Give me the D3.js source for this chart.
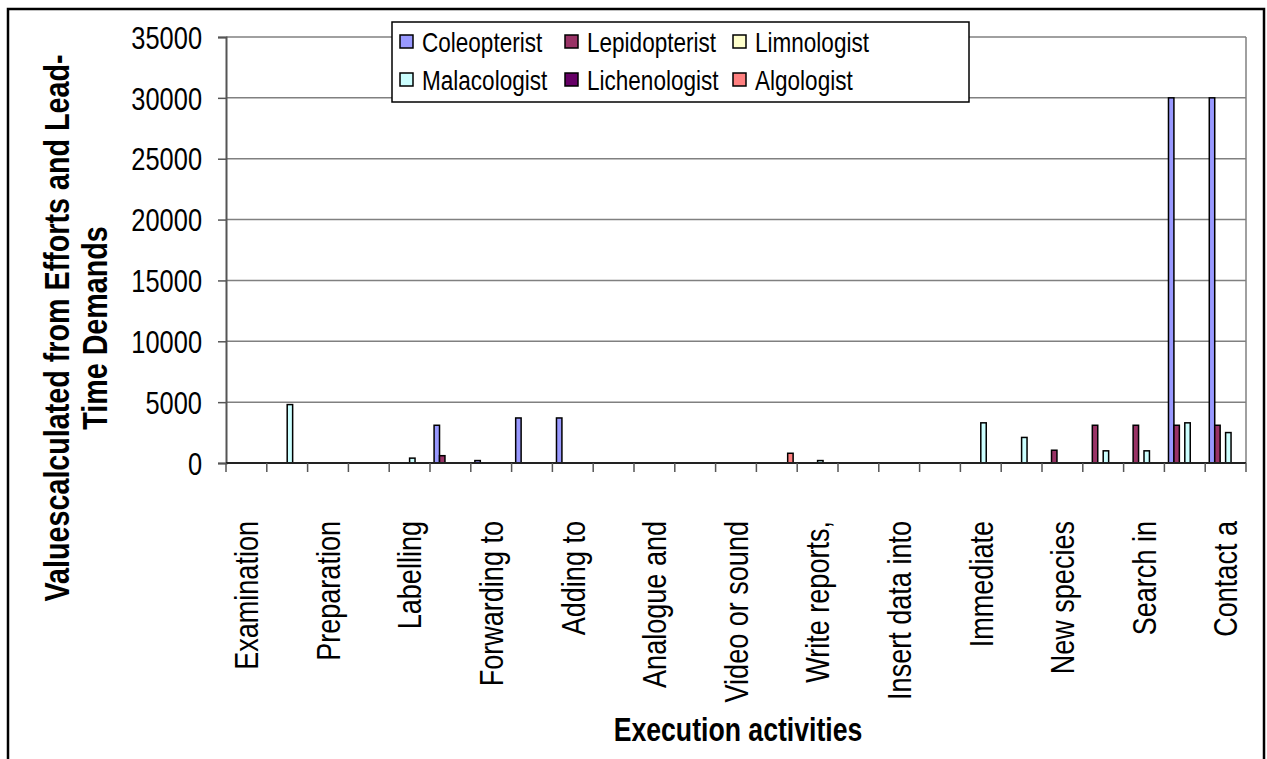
<!DOCTYPE html>
<html>
<head>
<meta charset="utf-8">
<script src="https://cdn.jsdelivr.net/npm/d3@7"></script>
<style>
  html, body { margin: 0; padding: 0; background: #fff; }
  svg { display: block; }
  text { font-family: "Liberation Sans", Arial, sans-serif; fill: #000; }
</style>
</head>
<body>
<svg id="chart" width="1267" height="759"></svg>
<script>
// 25 activities on the axis, Excel only printed every second label
const tickLabels = [
  "Examination", "", "Preparation", "", "Labelling", "", "Forwarding to", "",
  "Adding to", "", "Analogue and", "", "Video or sound", "", "Write reports,", "",
  "Insert data into", "", "Immediate", "", "New species", "", "Search in", "", "Contact a"
];

const seriesNames = ["Coleopterist", "Lepidopterist", "Limnologist", "Malacologist", "Lichenologist", "Algologist"];
const seriesColors = ["#9999ff", "#993366", "#ffffcc", "#ccffff", "#660066", "#ff8080"];

const coleopterist  = [0, 0, 0, 0, 0, 3100, 200, 3700, 3700, 0, 0, 0, 0, 0, 0, 0, 0, 0, 0, 0, 0, 0, 0, 30000, 30000];
const lepidopterist = [0, 0, 0, 0, 0, 600, 0, 0, 0, 0, 0, 0, 0, 0, 0, 0, 0, 0, 0, 0, 1050, 3100, 3100, 3100, 3100];
const limnologist   = [0, 0, 0, 0, 0, 0, 0, 0, 0, 0, 0, 0, 0, 0, 0, 0, 0, 0, 0, 0, 0, 0, 0, 0, 0];
const malacologist  = [0, 4800, 0, 0, 400, 0, 0, 0, 0, 0, 0, 0, 0, 0, 200, 0, 0, 0, 3300, 2100, 0, 1000, 1000, 3300, 2500];
const lichenologist = [0, 0, 0, 0, 0, 0, 0, 0, 0, 0, 0, 0, 0, 0, 0, 0, 0, 0, 0, 0, 0, 0, 0, 0, 0];
const algologist    = [0, 0, 0, 0, 0, 0, 0, 0, 0, 0, 0, 0, 0, 800, 0, 0, 0, 0, 0, 0, 0, 0, 0, 0, 0];

const yTicks = [0, 5000, 10000, 15000, 20000, 25000, 30000, 35000];

const seriesValues = [coleopterist, lepidopterist, limnologist, malacologist, lichenologist, algologist];

// the original uses a narrow font, squeeze Liberation Sans to match
const NARROW = 0.82;

const svg = d3.select("#chart");
const plot = { left: 226, right: 1246, top: 37, bottom: 463 };

// outer chart frame
svg.append("rect")
  .attr("x", 8).attr("y", 9)
  .attr("width", 1256).attr("height", 800)
  .attr("fill", "#fff")
  .attr("stroke", "#000")
  .attr("stroke-width", 2.5);

const x = d3.scaleBand()
  .domain(d3.range(tickLabels.length))
  .range([plot.left, plot.right]);

const xs = d3.scaleBand()
  .domain(d3.range(seriesNames.length))
  .range([0, x.bandwidth()])
  .paddingOuter(0.75);

const y = d3.scaleLinear()
  .domain([0, 35000])
  .range([plot.bottom, plot.top]);

// gridlines + plot border
svg.append("g")
  .selectAll("line")
  .data(yTicks.slice(1))
  .join("line")
  .attr("x1", plot.left).attr("x2", plot.right)
  .attr("y1", d => y(d)).attr("y2", d => y(d))
  .attr("stroke", "#808080")
  .attr("stroke-width", 1.5);

svg.append("line")
  .attr("x1", plot.right).attr("x2", plot.right)
  .attr("y1", plot.top).attr("y2", plot.bottom)
  .attr("stroke", "#808080")
  .attr("stroke-width", 1.5);

// bars
const bars = [];
seriesValues.forEach((vals, s) => {
  vals.forEach((v, i) => {
    if (v > 0) bars.push({ s, i, v });
  });
});

svg.append("g")
  .selectAll("rect")
  .data(bars)
  .join("rect")
  .attr("x", d => x(d.i) + xs(d.s))
  .attr("width", xs.bandwidth())
  .attr("y", d => y(d.v))
  .attr("height", d => y(0) - y(d.v))
  .attr("fill", d => seriesColors[d.s])
  .attr("stroke", "#000")
  .attr("stroke-width", 1.5);

// y axis
const yAxis = svg.append("g")
  .attr("transform", `translate(${plot.left},0)`)
  .call(d3.axisLeft(y).tickValues(yTicks).tickSize(8).tickPadding(16).tickFormat(d3.format("d")));
yAxis.select(".domain").attr("stroke", "#555").attr("stroke-width", 2);
yAxis.selectAll(".tick line").attr("stroke", "#555").attr("stroke-width", 1.5);
yAxis.selectAll(".tick text")
  .attr("font-size", 31)
  .attr("font-family", null)
  .attr("x", -24 / NARROW)
  .attr("transform", `scale(${NARROW},1)`)
  .attr("dy", "0.36em");

// x axis
svg.append("line")
  .attr("x1", plot.left).attr("x2", plot.right)
  .attr("y1", plot.bottom).attr("y2", plot.bottom)
  .attr("stroke", "#222")
  .attr("stroke-width", 2);

svg.append("g")
  .selectAll("line")
  .data(d3.range(tickLabels.length + 1))
  .join("line")
  .attr("x1", i => plot.left + i * x.step())
  .attr("x2", i => plot.left + i * x.step())
  .attr("y1", plot.bottom)
  .attr("y2", plot.bottom + 9)
  .attr("stroke", "#555")
  .attr("stroke-width", 1.5);

svg.append("g")
  .selectAll("text")
  .data(tickLabels.map((t, i) => ({ t, i })).filter(d => d.t))
  .join("text")
  .attr("transform", d => `translate(${x(d.i) + x.bandwidth() / 2},521) rotate(-90) scale(${NARROW},1)`)
  .attr("text-anchor", "end")
  .attr("dy", "0.36em")
  .attr("font-size", 33)
  .text(d => d.t);

// axis titles
svg.append("text")
  .attr("transform", `translate(738,741) scale(${NARROW},1)`)
  .attr("text-anchor", "middle")
  .attr("font-size", 32.5)
  .attr("font-weight", "bold")
  .text("Execution activities");

const yTitle = svg.append("text")
  .attr("transform", `translate(0,328) rotate(-90) scale(${NARROW},1)`)
  .attr("text-anchor", "middle")
  .attr("font-size", 35)
  .attr("font-weight", "bold");
yTitle.append("tspan").attr("x", 0).attr("y", 69).text("Valuescalculated from Efforts and Lead-");
yTitle.append("tspan").attr("x", 0).attr("y", 107).text("Time Demands");

// legend
const legend = svg.append("g").attr("transform", "translate(392,22)");
legend.append("rect")
  .attr("width", 577).attr("height", 80)
  .attr("fill", "#fff")
  .attr("stroke", "#000")
  .attr("stroke-width", 1.5);

const colX = [8, 173, 341];
const legendItems = legend.selectAll("g.item")
  .data(seriesNames)
  .join("g")
  .attr("class", "item")
  .attr("transform", (d, i) => `translate(${colX[i % 3]},${i < 3 ? 20 : 58})`);

legendItems.append("rect")
  .attr("x", 0).attr("y", -7)
  .attr("width", 13).attr("height", 13)
  .attr("fill", (d, i) => seriesColors[i])
  .attr("stroke", "#000")
  .attr("stroke-width", 1.5);

legendItems.append("text")
  .attr("transform", `translate(22,0) scale(${NARROW},1)`)
  .attr("dy", "0.36em")
  .attr("font-size", 27.5)
  .text(d => d);
</script>
</body>
</html>
